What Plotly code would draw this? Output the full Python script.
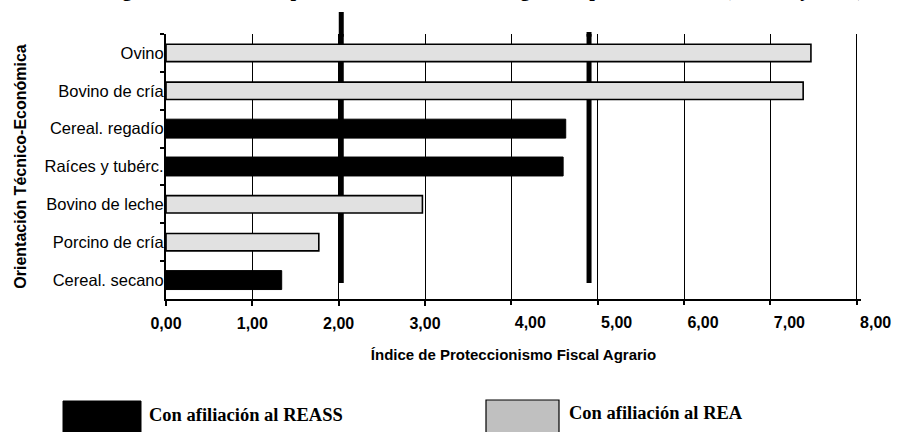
import plotly.graph_objects as go

# Orientación Técnico-Económica, top to bottom
categories = ["Ovino", "Bovino de cría", "Cereal. regadío", "Raíces y tubérc.",
              "Bovino de leche", "Porcino de cría", "Cereal. secano"]

# Índice de Proteccionismo Fiscal Agrario por grupo de afiliación
rea_categories = ["Ovino", "Bovino de cría", "Bovino de leche", "Porcino de cría"]
rea_values = [7.47, 7.38, 2.97, 1.77]

reass_categories = ["Cereal. regadío", "Raíces y tubérc.", "Cereal. secano"]
reass_values = [4.63, 4.60, 1.34]

# reference levels drawn as thick vertical bars
ref_levels = [2.03, 4.90]

x_ticks = [0, 1, 2, 3, 4, 5, 6, 7, 8]
x_ticklabels = ["0,00", "1,00", "2,00", "3,00", "4,00", "5,00", "6,00", "7,00", "8,00"]

name_reass = "Con afiliación al REASS"
name_rea = "Con afiliación al REA"
title_text = ("Figura 4. Índice de Proteccionismo Fiscal Agrario medio anual por "
              "Orientación Técnica según el tipo de afiliación (REASS y REA)")

W, H = 897, 432
L, R, T, B = 166, 36, 34, 133
PW, PH = W - L - R, H - T - B
X_MAX = 8.05


def px_x(px):
    return (px - L) / PW


def px_y(py):
    return (H - B - py) / PH


SANS = "Liberation Sans, Arial, sans-serif"
SERIF = "Liberation Serif, Times New Roman, serif"

fig = go.Figure()
fig.add_trace(go.Bar(
    y=reass_categories, x=reass_values, orientation="h", name=name_reass,
    marker=dict(color="#000000", line=dict(color="#000000", width=1)),
    width=0.5, showlegend=False,
))
fig.add_trace(go.Bar(
    y=rea_categories, x=rea_values, orientation="h", name=name_rea,
    marker=dict(color="#e1e1e1", line=dict(color="#000000", width=1.6)),
    width=0.46, showlegend=False,
))

# thick reference bars: the part inside the plot sits behind the bars,
# the part that rises above the frame is drawn on top
ref_tops = [px_y(12), px_y(32)]
for lvl, top in zip(ref_levels, ref_tops):
    fig.add_shape(type="line", xref="x", yref="paper", x0=lvl, x1=lvl,
                  y0=px_y(283), y1=min(top, 1.0), layer="between",
                  line=dict(color="#000000", width=5))
    if top > 1.0:
        fig.add_shape(type="line", xref="x", yref="paper", x0=lvl, x1=lvl,
                      y0=0.99, y1=top, layer="above",
                      line=dict(color="#000000", width=5))

# legend drawn as large swatches under the axis
fig.add_shape(type="rect", xref="paper", yref="paper",
              x0=px_x(63), x1=px_x(141), y0=px_y(445), y1=px_y(401),
              fillcolor="#000000", line=dict(color="#000000", width=1))
fig.add_shape(type="rect", xref="paper", yref="paper",
              x0=px_x(486), x1=px_x(559), y0=px_y(445), y1=px_y(400),
              fillcolor="#c0c0c0", line=dict(color="#000000", width=1.2))
fig.add_annotation(text=f"<b>{name_reass}</b>", xref="paper", yref="paper",
                   x=px_x(147), y=px_y(415), xanchor="left", yanchor="middle",
                   showarrow=False, font=dict(family=SERIF, size=18.5, color="#000000"))
fig.add_annotation(text=f"<b>{name_rea}</b>", xref="paper", yref="paper",
                   x=px_x(567), y=px_y(413), xanchor="left", yanchor="middle",
                   showarrow=False, font=dict(family=SERIF, size=18.5, color="#000000"))

# figure caption along the top edge
fig.add_annotation(text=f"<b>{title_text}</b>", xref="paper", yref="paper",
                   x=px_x(866), y=px_y(3), xanchor="right", yanchor="bottom",
                   showarrow=False, font=dict(family=SERIF, size=20, color="#000000"))

tick_font = dict(family=SANS, size=16, color="#000000", weight="bold")

fig.update_layout(
    width=W, height=H,
    margin=dict(l=L, r=R, t=T, b=B, autoexpand=False),
    paper_bgcolor="#ffffff", plot_bgcolor="#ffffff",
    barmode="overlay",
    font=dict(family=SANS, color="#000000"),
    xaxis=dict(
        range=[0, X_MAX], tickvals=x_ticks[:4], ticktext=x_ticklabels[:4],
        showgrid=False, zeroline=False, automargin=False,
        showline=True, linecolor="#000000", linewidth=2,
        ticks="outside", ticklen=5, tickcolor="#000000", tickwidth=1.5,
        tickfont=tick_font, ticklabelstandoff=4,
        title=dict(text="Índice de Proteccionismo Fiscal Agrario",
                   font=dict(family=SANS, size=15, color="#000000", weight="bold"),
                   standoff=18),
    ),
    xaxis2=dict(
        overlaying="x", matches="x", side="bottom", anchor="y",
        tickvals=x_ticks, ticktext=[""] * 4 + x_ticklabels[4:],
        showgrid=True, gridcolor="#000000", gridwidth=1.2,
        zeroline=False, showline=False, automargin=False,
        ticks="outside", ticklen=5, tickcolor="#000000", tickwidth=1.5,
        tickfont=tick_font, ticklabelstandoff=4, ticklabelshift=19,
    ),
    yaxis=dict(
        categoryorder="array", categoryarray=categories, autorange="reversed",
        showgrid=False, zeroline=False, automargin=False,
        showline=True, linecolor="#000000", linewidth=2,
        ticks="outside", tickson="boundaries", ticklen=4,
        tickcolor="#000000", tickwidth=1.5,
        tickfont=dict(family=SANS, size=16.5, color="#000000"),
        ticklabelstandoff=-3,
        title=dict(text="Orientación Técnico-Económica",
                   font=dict(family=SANS, size=16, color="#000000", weight="bold"),
                   standoff=14),
    ),
)

# invisible trace so the second x axis is drawn
fig.add_trace(go.Scatter(x=[0], y=[categories[0]], xaxis="x2", mode="markers",
                         marker=dict(opacity=0), showlegend=False, hoverinfo="skip"))

fig.write_html("out.html")
